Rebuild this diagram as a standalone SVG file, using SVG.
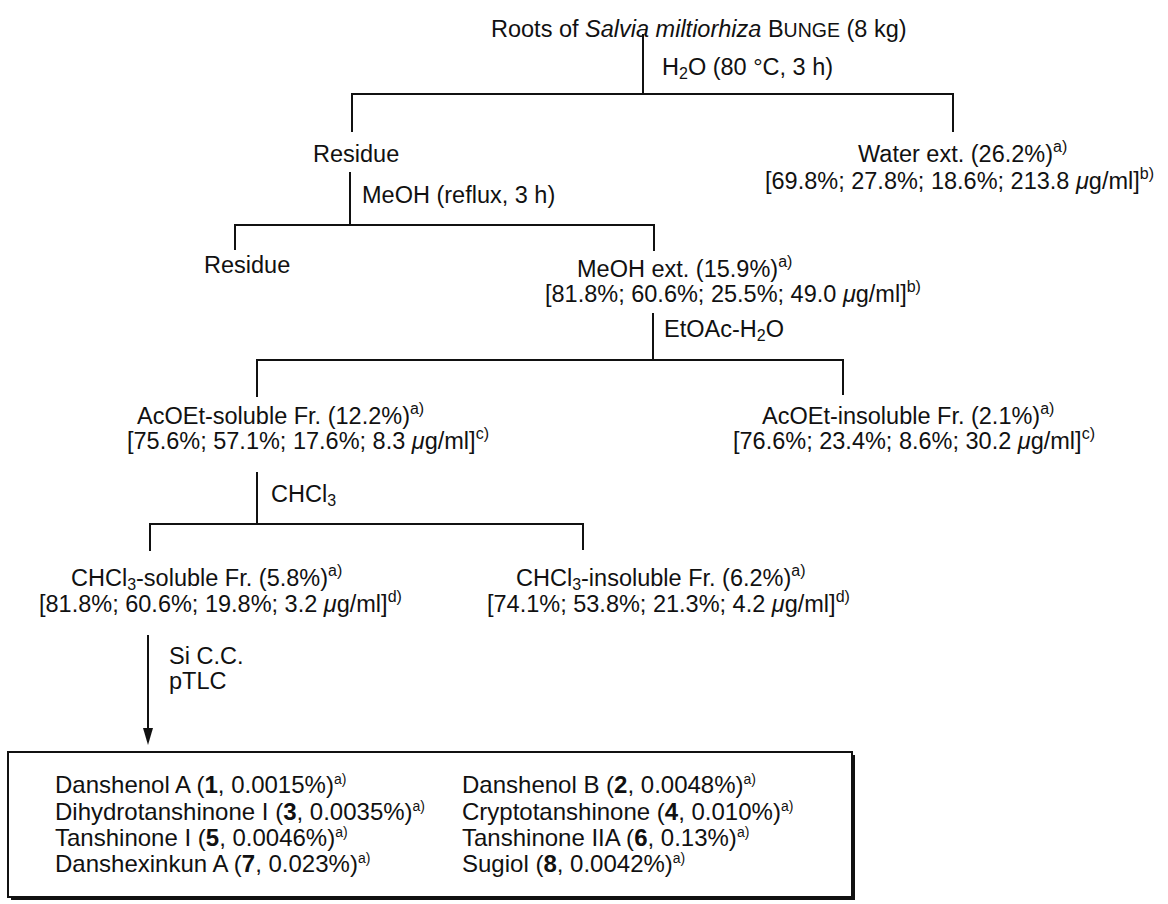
<svg xmlns="http://www.w3.org/2000/svg" width="1168" height="904" viewBox="0 0 1168 904">
<style>
text{font-family:"Liberation Sans",Arial,sans-serif;font-size:23.5px;fill:#111}
.sup{font-size:16px}
.sub{font-size:16px}
.bx{font-size:24px}
.bs{font-size:14px}
.ln{stroke:#111;stroke-width:2;fill:none}
.ah{fill:#111}
</style>
<rect width="1168" height="904" fill="#fff"/>
<g id="connectors">
<path class="ln" d="M643,34 V94 M352,132 V94 H953 V132"/>
<path class="ln" d="M350,172 V225 M235,250 V225 H654 V251"/>
<path class="ln" d="M653,313 V360 M257,397 V360 H843 V395"/>
<path class="ln" d="M257,472 V524 M150,551 V524 H583 V550"/>
<path class="ln" d="M148,635 V732"/>
<polygon class="ah" points="148,745 143,728 153,728"/>
</g>
<g id="labels">
<text x="662" y="75">H<tspan class="sub" dy="4">2</tspan><tspan dy="-4">O (80 °C, 3 h)</tspan></text>
<text x="362" y="203">MeOH (reflux, 3 h)</text>
<text x="664" y="337">EtOAc-H<tspan class="sub" dy="4">2</tspan><tspan dy="-4">O</tspan></text>
<text x="271" y="502">CHCl<tspan class="sub" dy="4">3</tspan></text>
<text x="169" y="664">Si C.C.</text>
<text x="169" y="689">pTLC</text>
</g>
<g id="n-roots">
<text x="491" y="37" font-size="24.5">Roots of <tspan font-style="italic">Salvia miltiorhiza</tspan>  B<tspan font-size="19.5">UNGE</tspan> (8 kg)</text>
</g>
<g id="n-residue1">
<text x="313" y="162">Residue</text>
</g>
<g id="n-water">
<text x="858" y="162" font-size="24.5">Water ext. (26.2%)<tspan class="sup" dy="-10">a)</tspan></text>
<text x="765" y="189">[69.8%; 27.8%; 18.6%; 213.8 <tspan font-style="italic">μ</tspan>g/ml]<tspan class="sup" dy="-10">b)</tspan></text>
</g>
<g id="n-residue2">
<text x="204" y="273">Residue</text>
</g>
<g id="n-meoh">
<text x="577" y="277">MeOH ext. (15.9%)<tspan class="sup" dy="-10">a)</tspan></text>
<text x="545" y="302">[81.8%; 60.6%; 25.5%; 49.0 <tspan font-style="italic">μ</tspan>g/ml]<tspan class="sup" dy="-10">b)</tspan></text>
</g>
<g id="n-acoet-sol">
<text x="137" y="424" font-size="24.5">AcOEt-soluble Fr. (12.2%)<tspan class="sup" dy="-10">a)</tspan></text>
<text x="127" y="449">[75.6%; 57.1%; 17.6%; 8.3 <tspan font-style="italic">μ</tspan>g/ml]<tspan class="sup" dy="-10">c)</tspan></text>
</g>
<g id="n-acoet-insol">
<text x="762" y="424">AcOEt-insoluble Fr. (2.1%)<tspan class="sup" dy="-10">a)</tspan></text>
<text x="733" y="449">[76.6%; 23.4%; 8.6%; 30.2 <tspan font-style="italic">μ</tspan>g/ml]<tspan class="sup" dy="-10">c)</tspan></text>
</g>
<g id="n-chcl3-sol">
<text x="71" y="586">CHCl<tspan class="sub" dy="4">3</tspan><tspan dy="-4">-soluble Fr. (5.8%)</tspan><tspan class="sup" dy="-10">a)</tspan></text>
<text x="39" y="612">[81.8%; 60.6%; 19.8%; 3.2 <tspan font-style="italic">μ</tspan>g/ml]<tspan class="sup" dy="-10">d)</tspan></text>
</g>
<g id="n-chcl3-insol">
<text x="516" y="586">CHCl<tspan class="sub" dy="4">3</tspan><tspan dy="-4">-insoluble Fr. (6.2%)</tspan><tspan class="sup" dy="-10">a)</tspan></text>
<text x="487" y="612">[74.1%; 53.8%; 21.3%; 4.2 <tspan font-style="italic">μ</tspan>g/ml]<tspan class="sup" dy="-10">d)</tspan></text>
</g>
<g id="n-compounds">
<rect x="11" y="755" width="844" height="145" fill="#111"/>
<rect x="8" y="752" width="844" height="145" fill="#fff" stroke="#111" stroke-width="2"/>
<text class="bx" x="55" y="793">Danshenol A (<tspan font-weight="bold">1</tspan>, 0.0015%)<tspan class="bs" dy="-9">a)</tspan></text>
<text class="bx" x="55" y="820">Dihydrotanshinone I (<tspan font-weight="bold">3</tspan>, 0.0035%)<tspan class="bs" dy="-9">a)</tspan></text>
<text class="bx" x="55" y="846">Tanshinone I (<tspan font-weight="bold">5</tspan>, 0.0046%)<tspan class="bs" dy="-9">a)</tspan></text>
<text class="bx" x="55" y="872">Danshexinkun A (<tspan font-weight="bold">7</tspan>, 0.023%)<tspan class="bs" dy="-9">a)</tspan></text>
<text class="bx" x="462" y="793">Danshenol B (<tspan font-weight="bold">2</tspan>, 0.0048%)<tspan class="bs" dy="-9">a)</tspan></text>
<text class="bx" x="462" y="820">Cryptotanshinone (<tspan font-weight="bold">4</tspan>, 0.010%)<tspan class="bs" dy="-9">a)</tspan></text>
<text class="bx" x="462" y="846">Tanshinone IIA (<tspan font-weight="bold">6</tspan>, 0.13%)<tspan class="bs" dy="-9">a)</tspan></text>
<text class="bx" x="462" y="872">Sugiol (<tspan font-weight="bold">8</tspan>, 0.0042%)<tspan class="bs" dy="-9">a)</tspan></text>
</g>
</svg>
